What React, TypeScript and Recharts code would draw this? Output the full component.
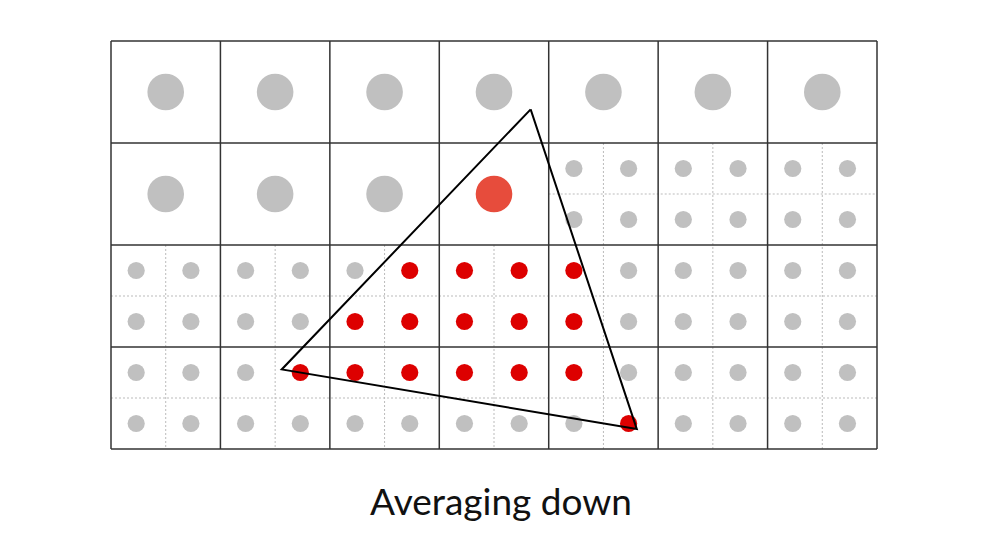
import { ScatterChart, Scatter, XAxis, YAxis, ReferenceLine } from "recharts";

// coarse grid: 7 columns x 4 rows, each coarse cell split in 2x2 fine cells
const coarseCols = [0, 1, 2, 3, 4, 5, 6];
const coarseRows = [0, 1, 2, 3];

// coarse samples that were not subdivided (col, row)
const coarseSamples = [
  [0, 0], [1, 0], [2, 0], [3, 0], [4, 0], [5, 0], [6, 0],
  [0, 1], [1, 1], [2, 1], [3, 1],
];
const coarseHits = [[3, 1]];

// fine rows (in fine units) and the fine columns they cover
const fineRows = [
  { row: 2, from: 8, to: 13 },
  { row: 3, from: 8, to: 13 },
  { row: 4, from: 0, to: 13 },
  { row: 5, from: 0, to: 13 },
  { row: 6, from: 0, to: 13 },
  { row: 7, from: 0, to: 13 },
];

// fine samples covered by the triangle (col, row)
const fineHits = [
  [5, 4], [6, 4], [7, 4], [8, 4],
  [4, 5], [5, 5], [6, 5], [7, 5], [8, 5],
  [3, 6], [4, 6], [5, 6], [6, 6], [7, 6], [8, 6],
  [9, 7],
];

// triangle vertices in fine units
const triangle = [
  { x: 7.67, y: 1.34 },
  { x: 3.12, y: 6.44 },
  { x: 9.61, y: 7.61 },
];

const isHit = (list: number[][], c: number, r: number) =>
  list.some(([hc, hr]) => hc === c && hr === r);

const coarseGray = coarseSamples
  .filter(([c, r]) => !isHit(coarseHits, c, r))
  .map(([c, r]) => ({ x: c * 2 + 1, y: r * 2 + 1 }));
const coarseRed = coarseHits.map(([c, r]) => ({ x: c * 2 + 1, y: r * 2 + 1 }));

// fine dots sit a touch left of the fine-cell centre in the original
const fineGray: { x: number; y: number }[] = [];
fineRows.forEach(({ row, from, to }) => {
  for (let c = from; c <= to; c++) {
    if (!isHit(fineHits, c, row)) fineGray.push({ x: c + 0.46, y: row + 0.5 });
  }
});
const fineRed = fineHits.map(([c, r]) => ({ x: c + 0.46, y: r + 0.5 }));

const triangleLoop = [...triangle, triangle[0]];

const dot = (r: number, fill: string) => (p: any) =>
  <circle cx={p.cx} cy={p.cy} r={r} fill={fill} />;

const GRID = "#333";
const DOTTED = "#bbb";

export default function App() {
  return (
    <div style={{ position: "absolute", left: 0, top: 0, width: 994, height: 540, background: "#fff" }}>
      <ScatterChart width={994} height={540} margin={{ top: 41, right: 117, left: 111, bottom: 91 }}>
        <XAxis type="number" dataKey="x" domain={[0, 14]} hide />
        <YAxis type="number" dataKey="y" domain={[0, 8]} reversed hide />

        {/* dotted fine-cell lines */}
        {[1, 3, 5, 7].map((x) => (
          <ReferenceLine key={`fv${x}`} segment={[{ x, y: 4 }, { x, y: 8 }]} stroke={DOTTED} strokeDasharray="2 2" />
        ))}
        {[9, 11, 13].map((x) => (
          <ReferenceLine key={`fw${x}`} segment={[{ x, y: 2 }, { x, y: 8 }]} stroke={DOTTED} strokeDasharray="2 2" />
        ))}
        {[5, 7].map((y) => (
          <ReferenceLine key={`fh${y}`} segment={[{ x: 0, y }, { x: 14, y }]} stroke={DOTTED} strokeDasharray="2 2" />
        ))}
        <ReferenceLine segment={[{ x: 8, y: 3 }, { x: 14, y: 3 }]} stroke={DOTTED} strokeDasharray="2 2" />

        {/* coarse grid */}
        {[...coarseCols, 7].map((c) => (
          <ReferenceLine key={`cv${c}`} segment={[{ x: c * 2, y: 0 }, { x: c * 2, y: 8 }]} stroke={GRID} strokeWidth={1.5} />
        ))}
        {[...coarseRows, 4].map((r) => (
          <ReferenceLine key={`ch${r}`} segment={[{ x: 0, y: r * 2 }, { x: 14, y: r * 2 }]} stroke={GRID} strokeWidth={1.5} />
        ))}

        <Scatter data={coarseGray} shape={dot(18.3, "#c0c0c0")} isAnimationActive={false} />
        <Scatter data={coarseRed} shape={dot(18.3, "#e74c3c")} isAnimationActive={false} />
        <Scatter data={fineGray} shape={dot(8.6, "#c0c0c0")} isAnimationActive={false} />
        <Scatter data={fineRed} shape={dot(8.6, "#dd0000")} isAnimationActive={false} />
        <Scatter
          data={triangleLoop}
          line={{ stroke: "#000", strokeWidth: 2 }}
          lineType="joint"
          shape={() => <g />}
          isAnimationActive={false}
        />
      </ScatterChart>
      <div
        style={{
          position: "absolute",
          left: 0,
          width: 1002,
          top: 479,
          textAlign: "center",
          fontFamily: "Lato, sans-serif",
          fontSize: 37,
          lineHeight: "44px",
          color: "#111",
        }}
      >
        Averaging down
      </div>
    </div>
  );
}
